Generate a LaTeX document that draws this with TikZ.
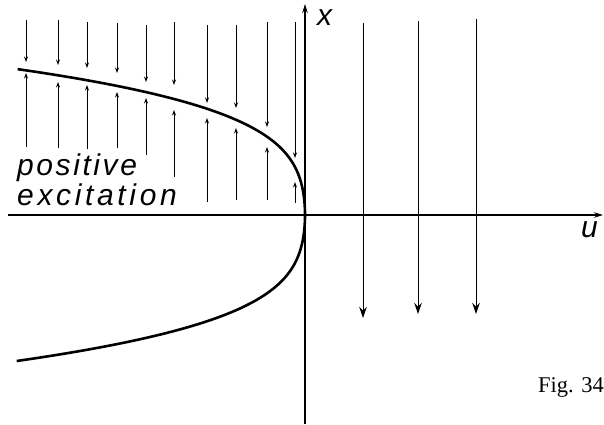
\documentclass[tikz,border=0pt]{standalone}
\usepackage{fontspec}
\setmainfont{Liberation Serif}
\newfontfamily\labfont{Liberation Sans}
\newfontfamily\labfontA{Liberation Sans}[LetterSpace=8.6]
\newfontfamily\labfontB{Liberation Sans}[LetterSpace=12.2]
\usetikzlibrary{arrows.meta}
\begin{document}
\begin{tikzpicture}[x=1pt,y=-1pt,
  axis/.style={line width=1.2pt,-{Stealth[length=9pt,width=5.5pt]}},
  flow/.style={line width=0.9pt,-{Stealth[length=5.5pt,width=4pt]}},
  bigflow/.style={line width=1pt,-{Stealth[length=11pt,width=7.5pt,inset=3.5pt]}},
  branch/.style={line width=2.6pt},
  lab/.style={inner sep=0pt, anchor=base west},
  figlab/.style={font=\fontsize{22.5}{24}\selectfont, inner sep=0pt, anchor=base west}]
\useasboundingbox[fill=white] (0,0) rectangle (604,424);
\coordinate (O) at (305,215);
\coordinate (ustart) at (8,215);
\coordinate (uend) at (603,215);
\coordinate (xstart) at (305,424);
\coordinate (xend) at (305,4);
\draw[axis] (ustart) -- (uend);
\draw[axis] (xstart) -- (xend);
% fold curve
\draw[branch] plot[domain=-1.46:1.46, samples=160, smooth]
  ({305 - (32.3*\x*\x + 48.3*\x*\x*\x*\x)}, {215 - 100*\x});
% flow arrows, left
\foreach \x/\a/\b/\c/\d in {26/20/62/147/73, 58/20/65/148/82, 87/22/68/149/85,
  117/23/73/148/92, 146/25/82/155/98, 174/22/85/177/110, 207/25/103/202/118,
  236/25/108/200/128, 267/22/127/200/147, 295/22/158/203/182}{
  \draw[flow] (\x,\a) -- (\x,\b);
  \draw[flow] (\x,\c) -- (\x,\d);
}
% flow arrows, right
\foreach \x/\a/\b in {363/23/318, 418/21/314, 476/19/314}{
  \draw[bigflow] (\x,\a) -- (\x,\b);
}
\node[lab, font=\labfontA\itshape\fontsize{30}{32}\selectfont] (pos) at (17,175) {positive};
\node[lab, font=\labfontB\itshape\fontsize{30}{32}\selectfont] (exc) at (17,205) {excitation};
\node[lab, font=\labfont\itshape\fontsize{30}{32}\selectfont] (xl) at (317,25) {x};
\node[lab, font=\labfont\itshape\fontsize{30}{32}\selectfont] (ul) at (581,237) {u};
\node[figlab] (fig) at (538,392) {Fig. 34};
\end{tikzpicture}
\end{document}
